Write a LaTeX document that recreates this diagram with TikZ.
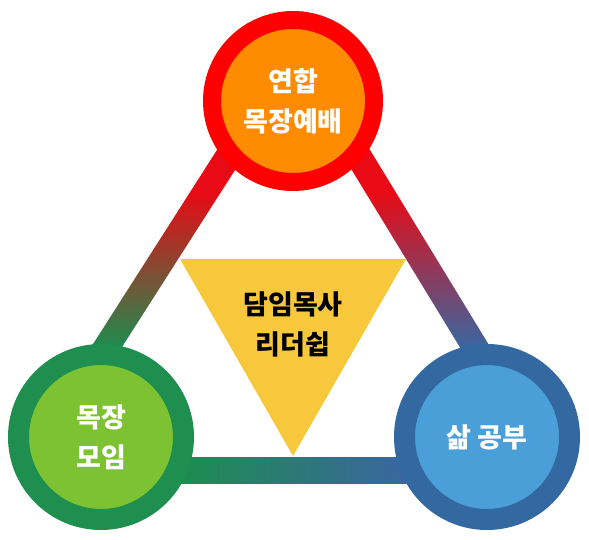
\documentclass[tikz,border=0pt]{standalone}
\usepackage{fontspec}
\newfontfamily\kr{Noto Sans CJK KR}
\usetikzlibrary{calc}
\definecolor{ringred}{HTML}{FF0000}
\definecolor{bandred}{HTML}{E80A14}
\definecolor{hubor}{HTML}{FF8C00}
\definecolor{ringgreen}{HTML}{1E8F4E}
\definecolor{hubgreen}{HTML}{7DC232}
\definecolor{ringblue}{HTML}{3468A0}
\definecolor{hubblue}{HTML}{4A9FD9}
\definecolor{bandgreen}{HTML}{1E8C50}
\definecolor{bandblue}{HTML}{3A66A0}
\definecolor{leadyellow}{HTML}{F8C83C}
\pgfdeclareverticalshading{redgreen}{100bp}{color(0bp)=(bandgreen); color(40bp)=(bandgreen); color(58bp)=(bandred); color(100bp)=(bandred)}
\pgfdeclareverticalshading{redblue}{100bp}{color(0bp)=(bandblue); color(40bp)=(bandblue); color(58bp)=(bandred); color(100bp)=(bandred)}
\pgfdeclarehorizontalshading{greenblue}{100bp}{color(0bp)=(bandgreen); color(40bp)=(bandgreen); color(61bp)=(bandblue); color(100bp)=(bandblue)}

\begin{document}
\begin{tikzpicture}[
	x=1pt, y=1pt,
	hub/.style={circle, inner sep=0pt, text=white, align=center,
		font=\kr\bfseries\fontsize{27}{40}\selectfont},
	lead/.style={align=center, text=black,
		font=\kr\bfseries\fontsize{27}{40}\selectfont},
	]
	\useasboundingbox (0,0) rectangle (589,539);
	\coordinate (apex) at (295,487);
	\coordinate (bl) at (28,69);
	\coordinate (br) at (550,69);

	%Verbindungsbaender
	\shade[shading=redgreen]
		($(apex)!13pt!90:(bl)$) -- ($(bl)!13pt!-90:(apex)$) --
		($(bl)!13pt!90:(apex)$) -- ($(apex)!13pt!-90:(bl)$) -- cycle;
	\shade[shading=redblue]
		($(apex)!13pt!90:(br)$) -- ($(br)!13pt!-90:(apex)$) --
		($(br)!13pt!90:(apex)$) -- ($(apex)!13pt!-90:(br)$) -- cycle;
	\shade[shading=greenblue]
		($(bl)!13pt!90:(br)$) -- ($(br)!13pt!-90:(bl)$) --
		($(br)!13pt!90:(bl)$) -- ($(bl)!13pt!-90:(br)$) -- cycle;

	\fill[leadyellow] (180,280) -- (406,280) -- (293,83) -- cycle;
	\node[lead] (pastor) at (293,215) {담임목사\\리더쉽};

	\node[hub, fill=hubor, draw=ringred, line width=18pt, minimum size=162pt] (union) at (293,438) {연합\\목장예배};
	\node[hub, fill=hubgreen, draw=ringgreen, line width=21pt, minimum size=165pt] (cell) at (101,102) {목장\\모임};
	\node[hub, fill=hubblue, draw=ringblue, line width=21pt, minimum size=165pt] (life) at (487,102) {삶 공부};
\end{tikzpicture}
\end{document}
